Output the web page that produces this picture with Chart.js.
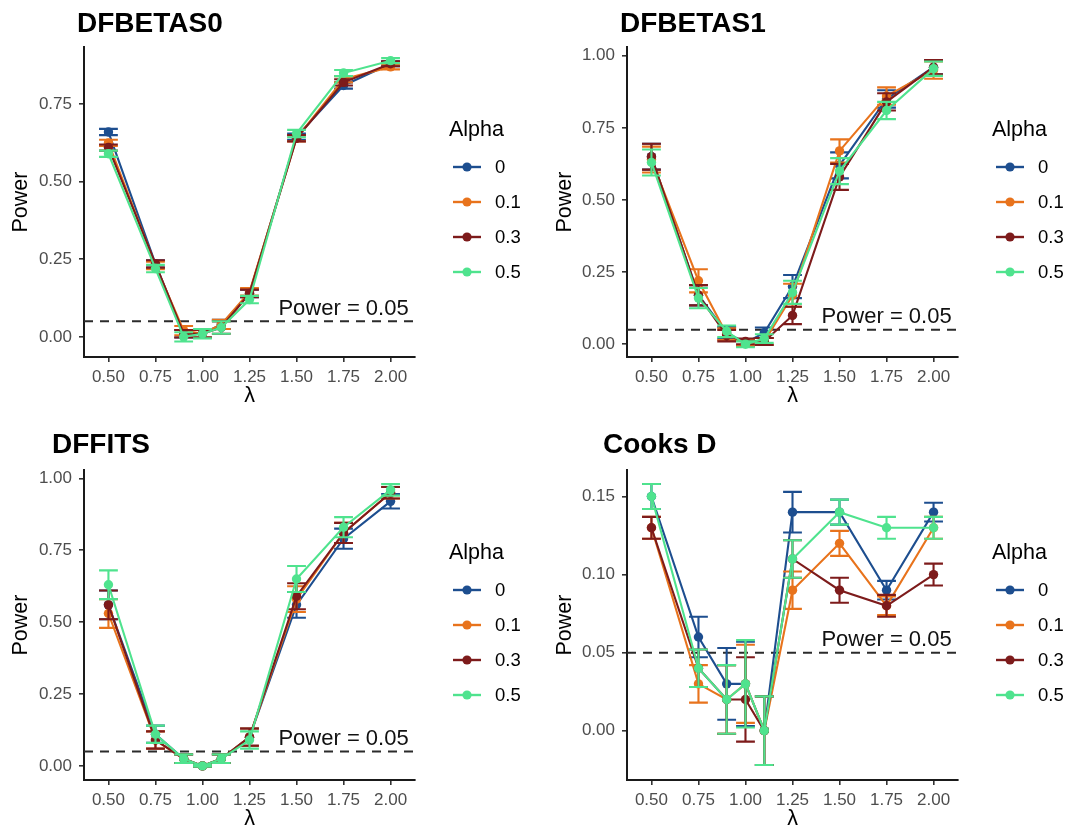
<!DOCTYPE html>
<html>
<head>
<meta charset="utf-8">
<title>Power by lambda</title>
<script src="https://cdn.jsdelivr.net/npm/chart.js@4.4.1/dist/chart.umd.min.js"></script>
<style>
  html, body { margin: 0; padding: 0; background: #fff; overflow: hidden; }
  #page { position: relative; width: 1070px; height: 834px; }
  #page canvas { position: absolute; }
</style>
</head>
<body>
<div id="page">
  <canvas id="p1" width="535" height="411" style="left:0px;top:0px"></canvas>
  <canvas id="p2" width="535" height="411" style="left:535px;top:0px"></canvas>
  <canvas id="p3" width="535" height="411" style="left:0px;top:423px"></canvas>
  <canvas id="p4" width="535" height="411" style="left:535px;top:423px"></canvas>
</div>
<script>
// ---- data ----
const lambda = [0.5, 0.75, 0.9, 1.0, 1.1, 1.25, 1.5, 1.75, 2.0];
const lambdaTicks = [0.5, 0.75, 1.0, 1.25, 1.5, 1.75, 2.0];
const alphaLabels = ['0', '0.1', '0.3', '0.5'];
const alphaColors = ['#1D4E8F', '#E8731C', '#7D1B1B', '#4FE38E'];
const nominalPower = 0.05;

// DFBETAS0: power per alpha (rows) at each lambda, and error half-widths
const dfbetas0Power = [
  [0.66, 0.235, 0.01, 0.01, 0.04, 0.14, 0.645, 0.81, 0.88],
  [0.625, 0.23, 0.02, 0.01, 0.04, 0.145, 0.64, 0.83, 0.87],
  [0.61, 0.235, 0.01, 0.01, 0.03, 0.14, 0.64, 0.82, 0.88],
  [0.59, 0.22, 0.0, 0.01, 0.03, 0.12, 0.655, 0.85, 0.89]
];
const dfbetas0Err = [
  [0.01, 0.012, 0.012, 0.012, 0.015, 0.012, 0.01, 0.01, 0.008],
  [0.01, 0.012, 0.015, 0.012, 0.015, 0.012, 0.01, 0.01, 0.008],
  [0.01, 0.012, 0.012, 0.012, 0.02, 0.012, 0.01, 0.01, 0.008],
  [0.01, 0.012, 0.015, 0.015, 0.02, 0.012, 0.012, 0.01, 0.008]
];
const dfbetas0Ticks = [0, 0.25, 0.5, 0.75];

// DFBETAS1
const dfbetas1Power = [
  [0.65, 0.17, 0.04, 0.005, 0.04, 0.20, 0.62, 0.85, 0.96],
  [0.64, 0.22, 0.035, 0.005, 0.01, 0.17, 0.67, 0.86, 0.95],
  [0.65, 0.17, 0.03, 0.01, 0.01, 0.10, 0.58, 0.84, 0.96],
  [0.63, 0.16, 0.045, 0.0, 0.02, 0.18, 0.60, 0.81, 0.955]
];
const dfbetas1Err = [
  [0.045, 0.035, 0.02, 0.01, 0.018, 0.04, 0.045, 0.03, 0.025],
  [0.045, 0.04, 0.02, 0.01, 0.012, 0.04, 0.04, 0.03, 0.03],
  [0.045, 0.035, 0.02, 0.01, 0.012, 0.03, 0.045, 0.03, 0.025],
  [0.045, 0.035, 0.02, 0.01, 0.015, 0.04, 0.045, 0.03, 0.025]
];
const dfbetas1Ticks = [0, 0.25, 0.5, 0.75, 1.0];

// DFFITS
const dffitsPower = [
  [0.56, 0.11, 0.025, 0.0, 0.025, 0.10, 0.56, 0.79, 0.92],
  [0.53, 0.09, 0.025, 0.0, 0.025, 0.10, 0.58, 0.81, 0.95],
  [0.56, 0.09, 0.025, 0.0, 0.025, 0.10, 0.59, 0.81, 0.95],
  [0.63, 0.11, 0.025, 0.0, 0.025, 0.09, 0.65, 0.83, 0.96]
];
const dffitsErr = [
  [0.05, 0.03, 0.015, 0.003, 0.015, 0.03, 0.045, 0.035, 0.025],
  [0.05, 0.03, 0.015, 0.003, 0.015, 0.03, 0.045, 0.035, 0.02],
  [0.05, 0.03, 0.015, 0.003, 0.015, 0.03, 0.045, 0.035, 0.02],
  [0.05, 0.03, 0.015, 0.003, 0.015, 0.03, 0.045, 0.035, 0.02]
];
const dffitsTicks = [0, 0.25, 0.5, 0.75, 1.0];

// Cooks D
const cooksPower = [
  [0.15, 0.06, 0.03, 0.03, 0.0, 0.14, 0.14, 0.09, 0.14],
  [0.13, 0.03, 0.02, 0.03, 0.0, 0.09, 0.12, 0.08, 0.13],
  [0.13, 0.04, 0.02, 0.02, 0.0, 0.11, 0.09, 0.08, 0.10],
  [0.15, 0.04, 0.02, 0.03, 0.0, 0.11, 0.14, 0.13, 0.13]
];
const cooksErr = [
  [0.008, 0.013, 0.023, 0.027, 0.022, 0.013, 0.008, 0.006, 0.006],
  [0.007, 0.012, 0.022, 0.025, 0.022, 0.012, 0.008, 0.006, 0.007],
  [0.007, 0.012, 0.022, 0.027, 0.022, 0.012, 0.008, 0.007, 0.007],
  [0.008, 0.012, 0.022, 0.028, 0.022, 0.012, 0.008, 0.007, 0.007]
];
const cooksTicks = [0, 0.05, 0.10, 0.15];

// ---- drawing ----
const FONT = '"Liberation Sans", Arial, Helvetica, sans-serif';
const STROKE = 2.1;
Chart.defaults.font.family = FONT;

// reference line, error bars, panel title and legend
const panelDecor = {
  id: 'panelDecor',
  beforeDatasetsDraw(chart, args, opts) {
    const { ctx, chartArea } = chart;
    const xs = chart.scales.x, ys = chart.scales.y;
    const py = ys.getPixelForValue(opts.refValue);
    ctx.save();
    ctx.strokeStyle = '#2b2b2b';
    ctx.lineWidth = 2;
    ctx.setLineDash([9, 7]);
    ctx.beginPath();
    ctx.moveTo(chartArea.left, py);
    ctx.lineTo(chartArea.right, py);
    ctx.stroke();
    ctx.setLineDash([]);
    ctx.fillStyle = '#111';
    ctx.font = '22px ' + FONT;
    ctx.textAlign = 'center';
    ctx.textBaseline = 'alphabetic';
    ctx.fillText('Power = ' + opts.refValue.toFixed(2), xs.getPixelForValue(opts.refTextX), py - 6.5);
    ctx.restore();
  },
  afterDatasetDraw(chart, args, opts) {
    const ds = chart.data.datasets[args.index];
    if (!ds.errors) return;
    const { ctx, chartArea } = chart;
    const xs = chart.scales.x, ys = chart.scales.y;
    ctx.save();
    ctx.beginPath();
    ctx.rect(chartArea.left, chartArea.top, chartArea.right - chartArea.left, chartArea.bottom - chartArea.top);
    ctx.clip();
    ctx.strokeStyle = ds.borderColor;
    ctx.lineWidth = STROKE;
    ds.data.forEach((pt, i) => {
      const e = ds.errors[i];
      const px = xs.getPixelForValue(pt.x);
      const hw = xs.getPixelForValue(pt.x + opts.capHalfWidth) - px;
      const yTop = ys.getPixelForValue(pt.y + e);
      const yBot = ys.getPixelForValue(pt.y - e);
      ctx.beginPath();
      ctx.moveTo(px, yTop); ctx.lineTo(px, yBot);
      ctx.moveTo(px - hw, yTop); ctx.lineTo(px + hw, yTop);
      ctx.moveTo(px - hw, yBot); ctx.lineTo(px + hw, yBot);
      ctx.stroke();
    });
    ctx.restore();
  },
  afterDraw(chart, args, opts) {
    const { ctx } = chart;
    ctx.save();
    // panel title
    ctx.fillStyle = '#000';
    ctx.font = 'bold 28px ' + FONT;
    ctx.textAlign = 'left';
    ctx.textBaseline = 'alphabetic';
    ctx.fillText(opts.title, opts.titleX, opts.titleY);
    // legend
    const lx = opts.legendX;
    ctx.font = '21.5px ' + FONT;
    ctx.fillText('Alpha', lx, 136);
    ctx.font = '18.5px ' + FONT;
    ctx.textBaseline = 'middle';
    chart.data.datasets.forEach((ds, i) => {
      const ry = 167 + i * 35;
      ctx.strokeStyle = ds.borderColor;
      ctx.lineWidth = 2.4;
      ctx.beginPath();
      ctx.moveTo(lx + 4, ry); ctx.lineTo(lx + 32, ry);
      ctx.stroke();
      ctx.fillStyle = ds.borderColor;
      ctx.beginPath();
      ctx.arc(lx + 18, ry, 4.6, 0, Math.PI * 2);
      ctx.fill();
      ctx.fillStyle = '#000';
      ctx.fillText(ds.label, lx + 46, ry + 1);
    });
    ctx.restore();
  }
};

function makePanel(canvasId, cfg) {
  const datasets = cfg.power.map((vals, s) => ({
    label: alphaLabels[s],
    data: lambda.map((x, i) => ({ x: x, y: vals[i] })),
    errors: cfg.err[s],
    borderColor: alphaColors[s],
    backgroundColor: alphaColors[s],
    pointBackgroundColor: alphaColors[s],
    pointBorderWidth: 0,
    pointRadius: 4.7,
    borderWidth: STROKE,
    tension: 0,
    order: 4 - s
  }));
  return new Chart(document.getElementById(canvasId), {
    type: 'line',
    data: { datasets },
    plugins: [panelDecor],
    options: {
      responsive: false,
      animation: false,
      devicePixelRatio: 1,
      layout: { padding: { top: 47, right: cfg.padRight, bottom: 0, left: 0 } },
      plugins: {
        legend: { display: false },
        title: { display: false },
        tooltip: { enabled: false },
        panelDecor: {
          title: cfg.title, titleX: cfg.titleX, titleY: cfg.titleY,
          legendX: cfg.legendX, refValue: nominalPower, refTextX: 1.75,
          capHalfWidth: 0.05
        }
      },
      scales: {
        x: {
          type: 'linear',
          min: 0.37, max: 2.13,
          afterBuildTicks: (sc) => { sc.ticks = lambdaTicks.map(v => ({ value: v })); },
          afterFit: (sc) => { sc.height = 54; },
          ticks: { font: { size: 17 }, color: '#4D4D4D', padding: 5.5, maxRotation: 0,
                   callback: (v) => Number(v).toFixed(2) },
          grid: { display: true, drawOnChartArea: false, drawTicks: true, tickLength: 5,
                  color: '#333', lineWidth: 1.6 },
          border: { display: true, color: '#1a1a1a', width: 2 },
          title: { display: true, text: 'λ', color: '#000', font: { size: 21.5 },
                   padding: { top: 0, bottom: 2 } }
        },
        y: {
          type: 'linear',
          min: cfg.yMin, max: cfg.yMax,
          afterBuildTicks: (sc) => { sc.ticks = cfg.yTicks.map(v => ({ value: v })); },
          afterFit: (sc) => { sc.width = cfg.yAxisWidth; },
          ticks: { font: { size: 17 }, color: '#4D4D4D', padding: 7,
                   callback: (v) => Number(v).toFixed(2) },
          grid: { display: true, drawOnChartArea: false, drawTicks: true, tickLength: 5,
                  color: '#333', lineWidth: 1.6 },
          border: { display: true, color: '#1a1a1a', width: 2 },
          title: { display: true, text: 'Power', color: '#000', font: { size: 21.5 },
                   padding: { top: cfg.yTitlePad, bottom: 0 } }
        }
      }
    }
  });
}

makePanel('p1', { title: 'DFBETAS0', power: dfbetas0Power, err: dfbetas0Err, yTicks: dfbetas0Ticks,
  yMin: -0.065, yMax: 0.934, yAxisWidth: 84, padRight: 120, yTitlePad: 8,
  titleX: 77, titleY: 32, legendX: 449 });
makePanel('p2', { title: 'DFBETAS1', power: dfbetas1Power, err: dfbetas1Err, yTicks: dfbetas1Ticks,
  yMin: -0.044, yMax: 1.03, yAxisWidth: 92, padRight: 112, yTitlePad: 17,
  titleX: 85, titleY: 32, legendX: 457 });
makePanel('p3', { title: 'DFFITS', power: dffitsPower, err: dffitsErr, yTicks: dffitsTicks,
  yMin: -0.049, yMax: 1.029, yAxisWidth: 84, padRight: 120, yTitlePad: 8,
  titleX: 52, titleY: 30, legendX: 449 });
makePanel('p4', { title: 'Cooks D', power: cooksPower, err: cooksErr, yTicks: cooksTicks,
  yMin: -0.0316, yMax: 0.167, yAxisWidth: 92, padRight: 112, yTitlePad: 17,
  titleX: 68, titleY: 30, legendX: 457 });
</script>
</body>
</html>
